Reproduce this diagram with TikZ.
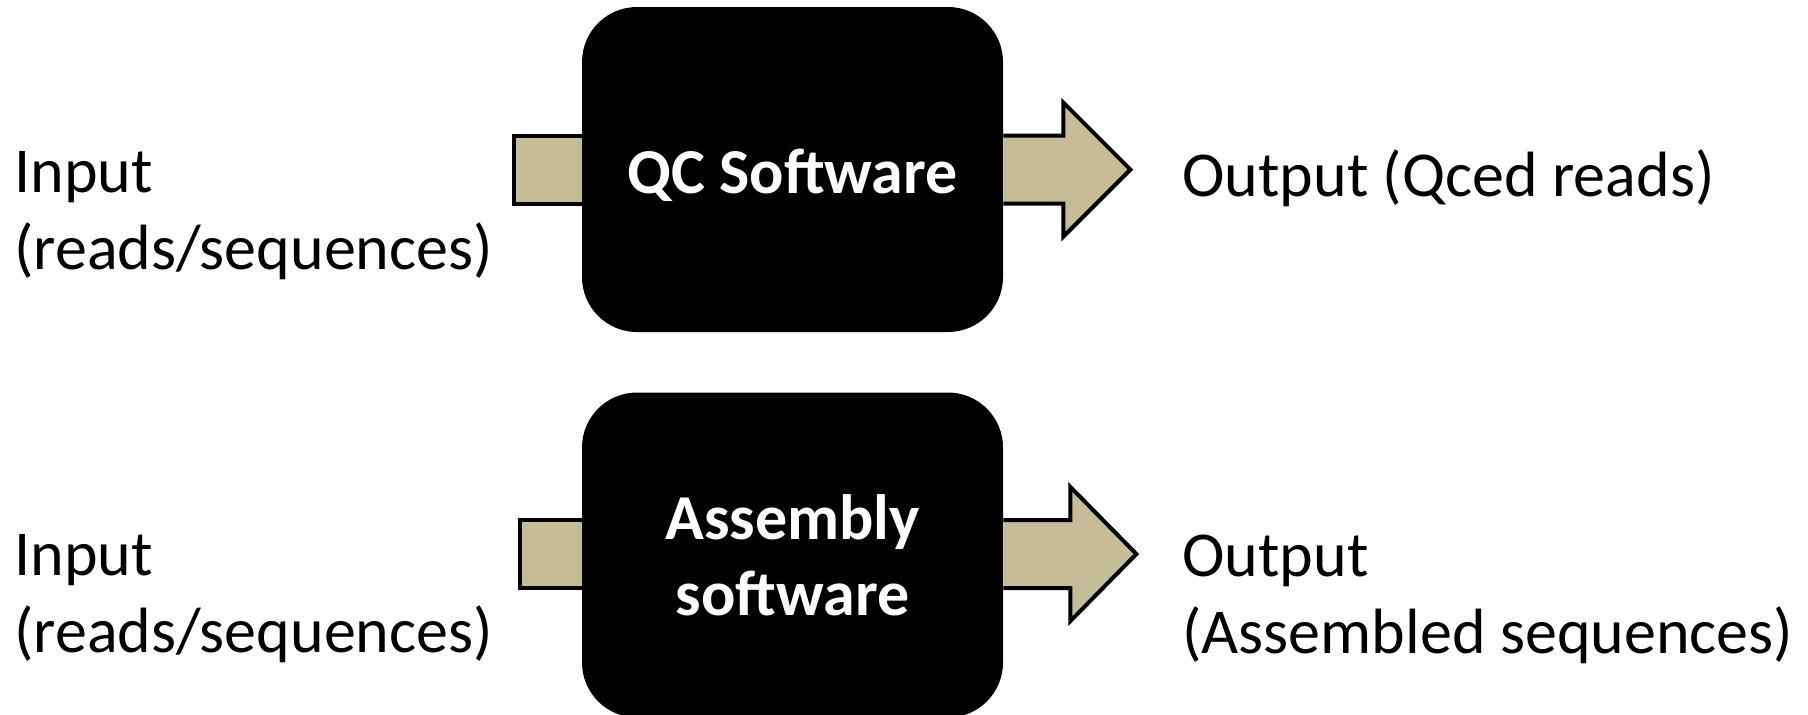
\documentclass[tikz,border=0pt]{standalone}
\usepackage{fontspec}
\setmainfont{Carlito}
\usetikzlibrary{calc,positioning}
\definecolor{flowtan}{HTML}{C4BD97}

\begin{document}
\begin{tikzpicture}[x=0.5pt, y=-0.5pt, line join=miter,
    box/.style={fill=black, rounded corners=27.5pt, minimum width=210.5pt, minimum height=162.5pt,
      inner sep=0pt, text=white, align=center, font=\fontsize{32}{38}\selectfont\bfseries},
    lbl/.style={anchor=west, inner sep=0pt, align=left, font=\fontsize{32}{38.5}\selectfont},
    flow/.style={fill=flowtan, draw=black, line width=2pt}]
  \useasboundingbox (0,0) rectangle (1808,714);
  % QC step
  \node[box] (qc) at (792.5,169.5) {\raisebox{-12pt}[0pt][0pt]{QC Software}};
  \draw[flow] ($(qc.west)+(0,-34)$) -- ++(-68,0) -- ++(0,68) -- ++(68,0);
  \draw[flow] ($(qc.east)+(0,-34)$) -- ++(60,0) -- ++(0,-33) -- ++(67,67) -- ++(-67,67) -- ++(0,-33) -- ++(-60,0);
  \node[lbl] (in1) at (14,216) {Input\\(reads/sequences)};
  \node[lbl] (out1) at (1182,178) {Output (Qced reads)};
  % assembly step
  \node[box] (asm) at (792.5,555) {Assembly\\software};
  \draw[flow] ($(asm.west)+(0,-35)$) -- ++(-62,0) -- ++(0,68) -- ++(62,0);
  \draw[flow] ($(asm.east)+(0,-35)$) -- ++(67,0) -- ++(0,-33) -- ++(66,67) -- ++(-66,67) -- ++(0,-33) -- ++(-67,0);
  \node[lbl] (in2) at (14,599) {Input\\(reads/sequences)};
  \node[lbl] (out2) at (1182,599) {Output\\(Assembled sequences)};
\end{tikzpicture}
\end{document}
